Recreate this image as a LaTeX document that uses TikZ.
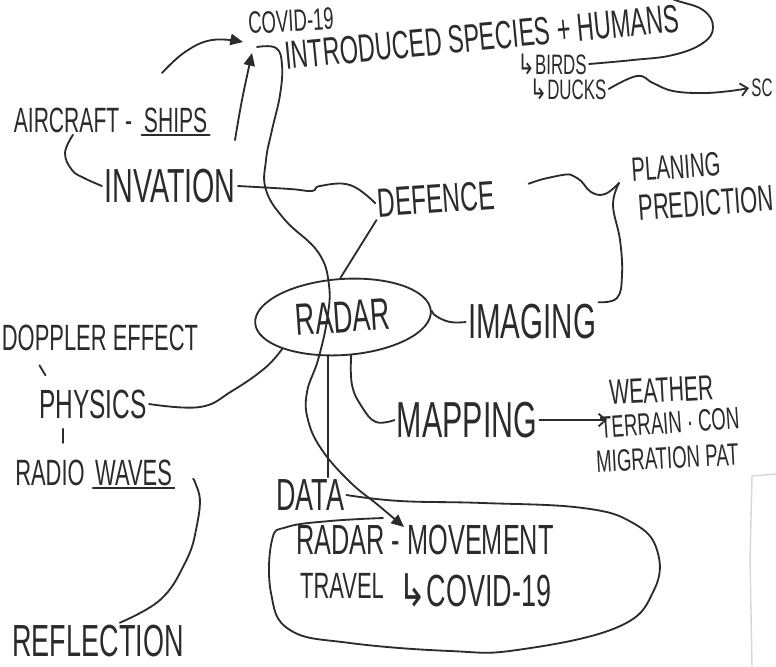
\documentclass[tikz,border=0pt]{standalone}
\usepackage{fontspec}
\setmainfont[FakeStretch=0.6]{Liberation Sans}
\newfontfamily\arrowfont[FakeStretch=0.75]{DejaVu Sans}
\usepackage{tikz}
\usetikzlibrary{arrows.meta, positioning, calc, shapes.geometric}
\definecolor{ink}{HTML}{2B2B2B}
\definecolor{paperedge}{HTML}{D6D6D6}
\newcommand{\hookarr}{{\arrowfont\symbol{"21B3}}}

\begin{document}
\begin{tikzpicture}[x=0.025cm, y=-0.025cm,
  every node/.style={text=ink, inner sep=1.5pt},
  txt/.style={font=\fontsize{#1}{#1}\selectfont},
  txt/.default=20,
  pen/.style ={draw=ink, line width=1.3pt, line cap=round, line join=round},
  arrf/.style={pen, -{Triangle[length=9pt, width=8pt]}},
  arro/.style={pen, -{Straight Barb[length=5pt, width=9pt]}},
  hand/.style={smooth, tension=0.7}
]
\useasboundingbox (0,0) rectangle (776,666);

%% ─── top: what comes in ─────────────────────────────────────────────────────
\node[txt=22, rotate=3]   (covtop) at (291,21) {COVID-19};
\node[txt=28, rotate=5.5] (intro)  at (482,37) {INTRODUCED SPECIES + HUMANS};
\node[txt=20] (birds) at (552,64) {\hookarr BIRDS};
\node[txt=20] (ducks) at (568,89) {\hookarr DUCKS};
\node[txt=18, anchor=west] (sc) at (749,88) {SC};

\coordinate (tailA)  at (162,73);
\coordinate (tipA)   at (243,42);
\coordinate (tailB)  at (235,140);
\coordinate (tipB)   at (252,53);
\coordinate (hookA)  at (257,47);
\coordinate (offtop) at (648,-10);

\draw[arrf] plot[hand] coordinates {(tailA) (185,52) (212,40) (tipA)};
\draw[arrf] plot[hand] coordinates {(tailB) (242,100) (tipB)};
\draw[pen]  plot[hand] coordinates {(offtop) (675,0) (703,10) (713,27) (703,43)
                                    (673,55) (633,60) (birds.east)};
\draw[arro] plot[hand] coordinates {(ducks.east) (637,76) (653,83) (673,91)
                                    (703,93) (730,91) (sc.west)};

%% ─── left: invasion + physics ───────────────────────────────────────────────
\node[txt=25] (aircraft) at (73,120) {AIRCRAFT -};
\node[txt=25, right=5pt of aircraft] (ships) {SHIPS};
\node[txt=34] (invation) at (170,186) {INVATION};
\node[txt=26] (doppler)  at (100,338) {DOPPLER EFFECT};
\node[txt=29] (physics)  at (93,404)  {PHYSICS};
\node[txt=26] (radio)    at (50,473)  {RADIO};
\node[txt=26, right=4pt of radio] (waves) {WAVES};
\node[txt=32] (reflection) at (98,641) {REFLECTION};

\draw[pen] (ships.south west) -- (ships.south east);
\draw[pen] (waves.south west) -- (waves.south east);
\draw[pen] plot[hand] coordinates {(aircraft.south) (65,153) (72,170) (84,178)
                                   (invation.west)};
\draw[pen] (doppler.south west) ++(40,12) -- ++(6,10);
\draw[pen] (physics.south west) ++(26,8) -- ++(0,14);
\draw[pen, shorten <=14pt] plot[hand] coordinates {(waves.east) (198,490) (196,530)
                                   (184,565) (160,600) (reflection.40)};

%% ─── centre: radar ──────────────────────────────────────────────────────────
\node[pen, ellipse, minimum width=4.4cm, minimum height=1.9cm, rotate=4,
      txt=32] (radar) at (343,317) {RADAR};
\node[txt=29, rotate=4] (defence)    at (436,199) {DEFENCE};
\node[txt=35]           (imaging)    at (532,322) {IMAGING};
\node[txt=24, rotate=4] (planing)    at (676,167) {PLANING};
\node[txt=26, rotate=4] (prediction) at (706,203) {PREDICTION};
\node[txt=36]           (mapping)    at (467,420) {MAPPING};
\node[txt=25, rotate=3, anchor=west] (weather)   at (607,393) {WEATHER};
\node[txt=22, rotate=4, anchor=west] (terrain)   at (598,428) {TERRAIN · CON};
\node[txt=22, rotate=3, anchor=west] (migration) at (594,462) {MIGRATION PAT};

\coordinate (brace) at (619,183);
\coordinate (tipC)  at (404,527);

\draw[pen] plot[hand] coordinates {(invation.east) (290,189) (312,191) (320,186)
                                   (350,185) (defence.west)};
\draw[pen] (defence.south west) -- (radar.north);
\draw[pen, shorten <=24pt] plot[hand] coordinates {(defence.east) (557,176) (577,178)
                                   (591,192) (605,194) (brace)};
\draw[pen] plot[hand] coordinates {(brace) (613,205) (620,240) (622,275) (617,298)
                                   (imaging.north east)};
\draw[pen] plot[hand] coordinates {(radar.east) (436,316) (450,322) (imaging.west)};
\draw[pen] plot[hand] coordinates {(radar.south west) (265,368) (232,391) (200,407)
                                   (physics.east)};
\draw[pen] plot[hand] coordinates {(radar.278) (352,385) (362,407) (376,422)
                                   (mapping.west)};
\draw[arro] (mapping.east) -- (mapping.east -| weather.west);
\draw[arrf] plot[hand] coordinates {(hookA) (276,48) (282,65) (280,95) (272,130)
                                    (266,160) (266,190) (285,220) (318,252) (329,285)
                                    (327,320) (318,360) (307,392) (308,420) (322,450)
                                    (350,482) (378,505) (tipC)};

%% ─── bottom: data ───────────────────────────────────────────────────────────
\node[txt=32] (data)      at (310,495) {DATA};
\node[txt=30] (radarmove) at (425,540) {RADAR - MOVEMENT};
\node[txt=26] (travel)    at (342,586) {TRAVEL};
\node[txt=32, anchor=west] (covbot) at (396,590) {\hookarr COVID-19};

\coordinate (blobend) at (383,518);

\draw[pen] (radar.245) -- (radar.245 |- data.north);
\draw[pen] plot[hand] coordinates {(data.east) (400,501) (483,503) (583,508) (633,523)
                                   (657,550) (654,590) (618,627) (517,650) (450,651)
                                   (350,643) (290,630) (271,593) (272,540) (287,527)
                                   (330,521) (blobend)};

%% paper edge
\draw[paperedge, line width=1pt] (776,474) -- (752,476) -- (750,560) -- (752,666);

\end{tikzpicture}
\end{document}
